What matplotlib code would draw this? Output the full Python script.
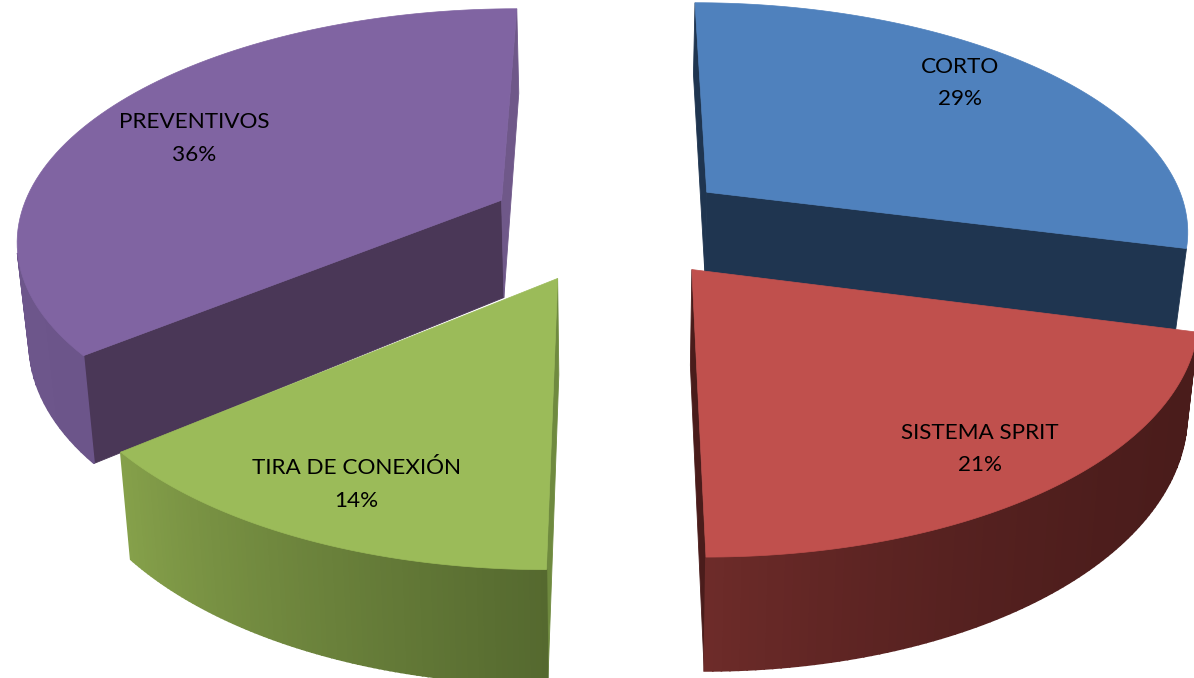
import numpy as np
import matplotlib
matplotlib.use("Agg")
import matplotlib.pyplot as plt
from matplotlib.colors import to_rgb
from matplotlib.patches import Polygon

categories = ["CORTO", "SISTEMA SPRIT", "TIRA DE CONEXIÓN", "PREVENTIVOS"]
shares = [29, 21, 14, 36]
top_colors = ["#4F81BD", "#C0504D", "#9BBB59", "#8064A2"]
arc_start_colors = ["#1F3550", "#4A1C1B", "#55692F", "#6C558A"]
arc_end_colors = ["#1F3550", "#6D2B29", "#85A04A", "#735C91"]
start_wall_colors = ["#1F3550", "#4A1C1B", "#6F8A3F", "#4A3757"]
end_wall_colors = ["#1F3550", "#4A1C1B", "#6F8A3F", "#6F5889"]
gradient_power = [1, 2.5, 1, 1]
explode_x = [0.24, 0.245, 0.278, 0.268]
explode_y = [0.24, 0.24, 0.25, 0.26]
depth = [84, 93, 93, 99]
draw_order = [3, 0, 2, 1]
label_xy = [(960, 83), (980, 449), (356, 484.5), (194, 138.5)]

CX, CY, FX, FY, K, S = 617, 225, 484, 228, 0.154, 0.98


def project(x, y, h=0.0):
    w = 1 + K * y
    sx = FX * x / w
    sy = CY - FY * y / w
    if h:
        sx = sx * S
        sy = sy + h / w
    return CX + sx, sy


def wedge(a0, a1, ex, ey):
    mid = 0.5 * (a0 + a1)
    ox, oy = ex * np.sin(mid), ey * np.cos(mid)
    th = np.linspace(a0, a1, 90)
    return ox, oy, ox + np.sin(th), oy + np.cos(th)


def quad(ax, xa, ya, xb, yb, h, color, z, lw=0.6):
    p = [project(xa, ya), project(xb, yb), project(xb, yb, h), project(xa, ya, h)]
    area = sum(p[i][0] * p[(i + 1) % 4][1] - p[(i + 1) % 4][0] * p[i][1] for i in range(4))
    if area < 0:
        ax.add_patch(Polygon(p, closed=True, fc=color, ec=color, lw=lw, zorder=z))


fig = plt.figure(figsize=(11.94, 6.78), dpi=100, facecolor="white")
ax = fig.add_axes([0, 0, 1, 1])
ax.set_xlim(0, 1194)
ax.set_ylim(678, 0)
ax.axis("off")

edges = np.cumsum([0] + shares) / sum(shares) * 2 * np.pi
for rank, i in enumerate(draw_order):
    z = 10 * rank + 1
    ox, oy, xs, ys = wedge(edges[i], edges[i + 1], explode_x[i], explode_y[i])
    quad(ax, ox, oy, xs[0], ys[0], depth[i], start_wall_colors[i], z)
    quad(ax, xs[-1], ys[-1], ox, oy, depth[i], end_wall_colors[i], z)
    c0, c1 = np.array(to_rgb(arc_start_colors[i])), np.array(to_rgb(arc_end_colors[i]))
    for j in range(len(xs) - 1):
        t = (j / (len(xs) - 2)) ** gradient_power[i]
        quad(ax, xs[j], ys[j], xs[j + 1], ys[j + 1], depth[i], tuple(c0 + (c1 - c0) * t), z + 1, lw=1.2)
    outline = [project(ox, oy)] + [project(a, b) for a, b in zip(xs, ys)]
    ax.add_patch(Polygon(outline, closed=True, fc=top_colors[i], ec=top_colors[i], lw=0.5, zorder=z + 2))

for name, value, (lx, ly) in zip(categories, shares, label_xy):
    ax.text(lx, ly, f"{name}\n{value}%", ha="center", va="center", fontsize=16.2, family="Lato",
            color="black", linespacing=1.78, zorder=100)

fig.savefig("out.png", dpi=100, facecolor="white")
